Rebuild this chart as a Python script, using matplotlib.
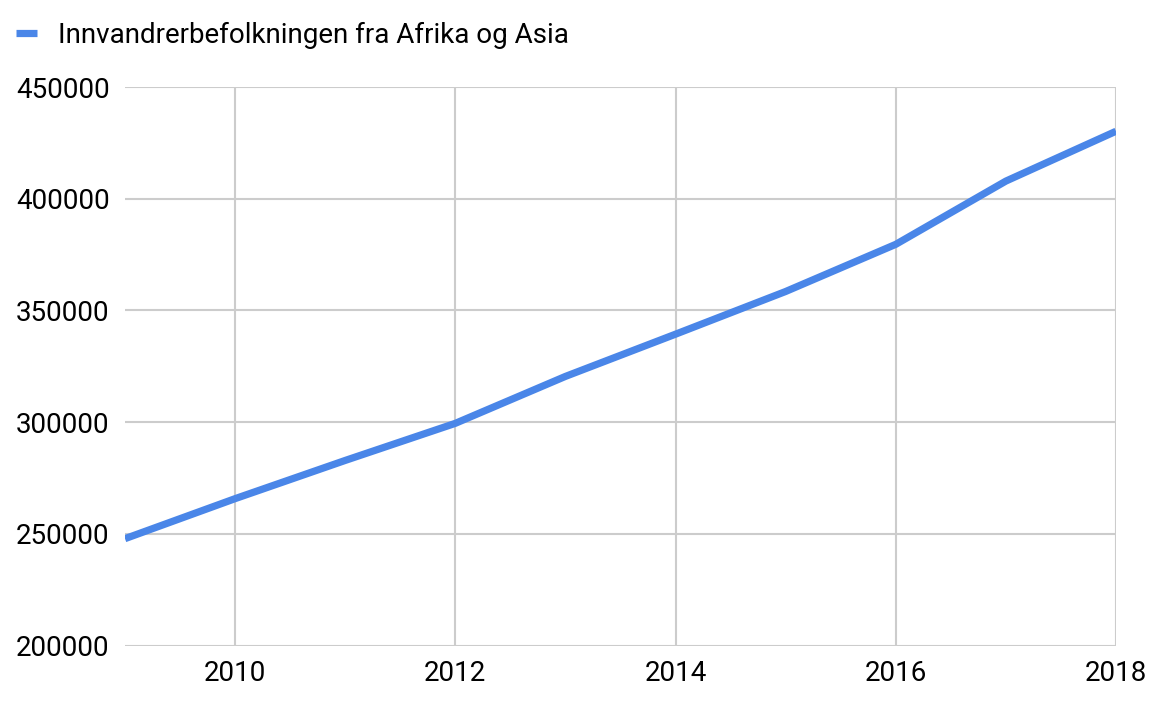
"""
Line chart: immigrant population from Africa and Asia, 2009-2018.
"""
import matplotlib
matplotlib.use("Agg")
import matplotlib.pyplot as plt

years = [2009, 2010, 2011, 2012, 2013, 2014, 2015, 2016, 2017, 2018]
population = [247900, 265800, 282900, 299500, 320500, 339400, 358500, 379600, 407900, 430200]
series_label = "Innvandrerbefolkningen fra Afrika og Asia"
x_ticks = [2010, 2012, 2014, 2016, 2018]
y_ticks = [200000, 250000, 300000, 350000, 400000, 450000]

BLUE = "#4a86e8"
GRID = "#cccccc"


def main() -> None:
    plt.rcParams["font.family"] = ["Roboto", "DejaVu Sans"]

    W, H = 1151, 708
    fig = plt.figure(figsize=(W / 100, H / 100), dpi=100)
    ax = fig.add_axes([125 / W, 1 - 645.7 / H, (1116 - 125) / W, (645.7 - 87) / H])

    ax.plot(years, population, color=BLUE, lw=5.2, solid_capstyle="butt",
            solid_joinstyle="round", label=series_label, zorder=3)

    ax.set_xlim(2009, 2018)
    ax.set_ylim(200000, 450000)
    ax.set_xticks(x_ticks)
    ax.set_yticks(y_ticks)
    ax.set_yticklabels([str(v) for v in y_ticks])
    ax.tick_params(axis="both", length=0, labelsize=20, colors="#000000")
    ax.tick_params(axis="x", pad=10)
    ax.tick_params(axis="y", pad=11)

    ax.grid(True, color=GRID, lw=1.5)
    ax.set_axisbelow(True)
    for s in ax.spines.values():
        s.set_visible(False)

    leg = fig.legend(
        loc="center left",
        bbox_to_anchor=(16 / W, 1 - 35 / H),
        frameon=False,
        fontsize=20,
        handlelength=0.76,
        handletextpad=0.74,
        borderaxespad=0,
        borderpad=0,
    )
    for line in leg.get_lines():
        line.set_linewidth(5.2)
        line.set_solid_capstyle("butt")

    fig.savefig("out.png", dpi=100)
    plt.close(fig)


if __name__ == "__main__":
    main()
